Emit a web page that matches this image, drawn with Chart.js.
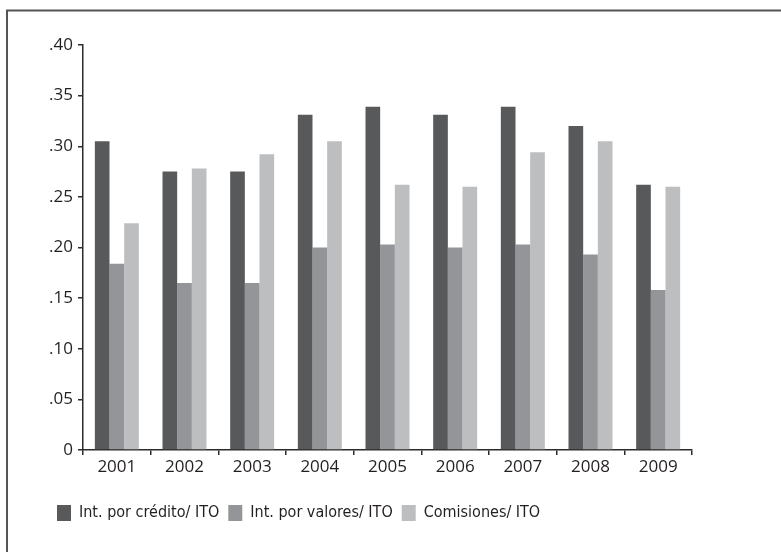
<!DOCTYPE html>
<html>
<head>
<meta charset="utf-8">
<script src="https://cdn.jsdelivr.net/npm/chart.js@4/dist/chart.umd.min.js"></script>
<style>
  html, body { margin: 0; padding: 0; background: #ffffff; }
  #wrap { position: relative; width: 781px; height: 552px; }
</style>
</head>
<body>
<div id="wrap"><canvas id="c" width="781" height="552"></canvas></div>
<script>
// Years on the category axis
const years = ['2001', '2002', '2003', '2004', '2005', '2006', '2007', '2008', '2009'];

// Ratios to total operating income (ITO)
const creditoITO    = [0.305, 0.275, 0.275, 0.331, 0.339, 0.331, 0.339, 0.320, 0.262];
const valoresITO    = [0.184, 0.165, 0.165, 0.200, 0.203, 0.200, 0.203, 0.193, 0.158];
const comisionesITO = [0.224, 0.278, 0.292, 0.305, 0.262, 0.260, 0.294, 0.305, 0.260];

const seriesNames = ['Int. por crédito/ ITO', 'Int. por valores/ ITO', 'Comisiones/ ITO'];

const yMax = 0.40;
const yStep = 0.05;

const INK = '#231f20';
const AXIS = '#2b2b2b';
const numFont = { family: '"Open Sans", "Noto Sans", sans-serif', size: 17 };
const legendFont = { family: '"Liberation Sans Narrow", "DejaVu Sans Condensed", sans-serif', size: 16 };

// Thin frame along the top and left edge of the figure
const framePlugin = {
  id: 'frame',
  beforeDraw(chart) {
    const ctx = chart.ctx;
    ctx.save();
    ctx.strokeStyle = '#555555';
    ctx.lineWidth = 2;
    ctx.beginPath();
    ctx.moveTo(7, chart.height);
    ctx.lineTo(7, 10.5);
    ctx.lineTo(chart.width, 10.5);
    ctx.stroke();
    ctx.restore();
  }
};

new Chart(document.getElementById('c'), {
  type: 'bar',
  data: {
    labels: years,
    datasets: [
      { label: seriesNames[0], data: creditoITO,    backgroundColor: '#58595b' },
      { label: seriesNames[1], data: valoresITO,    backgroundColor: '#939598' },
      { label: seriesNames[2], data: comisionesITO, backgroundColor: '#bcbec0' }
    ]
  },
  options: {
    responsive: false,
    animation: false,
    devicePixelRatio: 1,
    layout: { padding: { left: 48, right: 89, top: 45, bottom: 21 } },
    datasets: { bar: { barPercentage: 1.0, categoryPercentage: 0.65, borderWidth: 0 } },
    scales: {
      x: {
        offset: true,
        grid: {
          offset: true,
          drawOnChartArea: false,
          drawTicks: true,
          tickLength: 5,
          color: AXIS,
          lineWidth: 1.5
        },
        border: { display: true, color: AXIS, width: 1.5 },
        ticks: { color: INK, font: numFont, padding: 2, maxRotation: 0 },
        afterFit(scale) { scale.height = 46; }
      },
      y: {
        min: 0,
        max: yMax,
        grid: {
          drawOnChartArea: false,
          drawTicks: true,
          tickLength: 5,
          color: AXIS,
          lineWidth: 1.5
        },
        border: { display: true, color: AXIS, width: 1.5 },
        ticks: {
          stepSize: yStep,
          color: INK,
          font: numFont,
          padding: 5,
          callback: (v) => (v === 0 ? '0' : v.toFixed(2).replace(/^0/, ''))
        },
        afterFit(scale) { scale.width = 35; }
      }
    },
    plugins: {
      legend: {
        position: 'bottom',
        align: 'start',
        labels: {
          boxWidth: 14,
          boxHeight: 16,
          padding: 9,
          color: INK,
          font: legendFont
        }
      },
      tooltip: { enabled: false }
    }
  },
  plugins: [framePlugin]
});
</script>
</body>
</html>
